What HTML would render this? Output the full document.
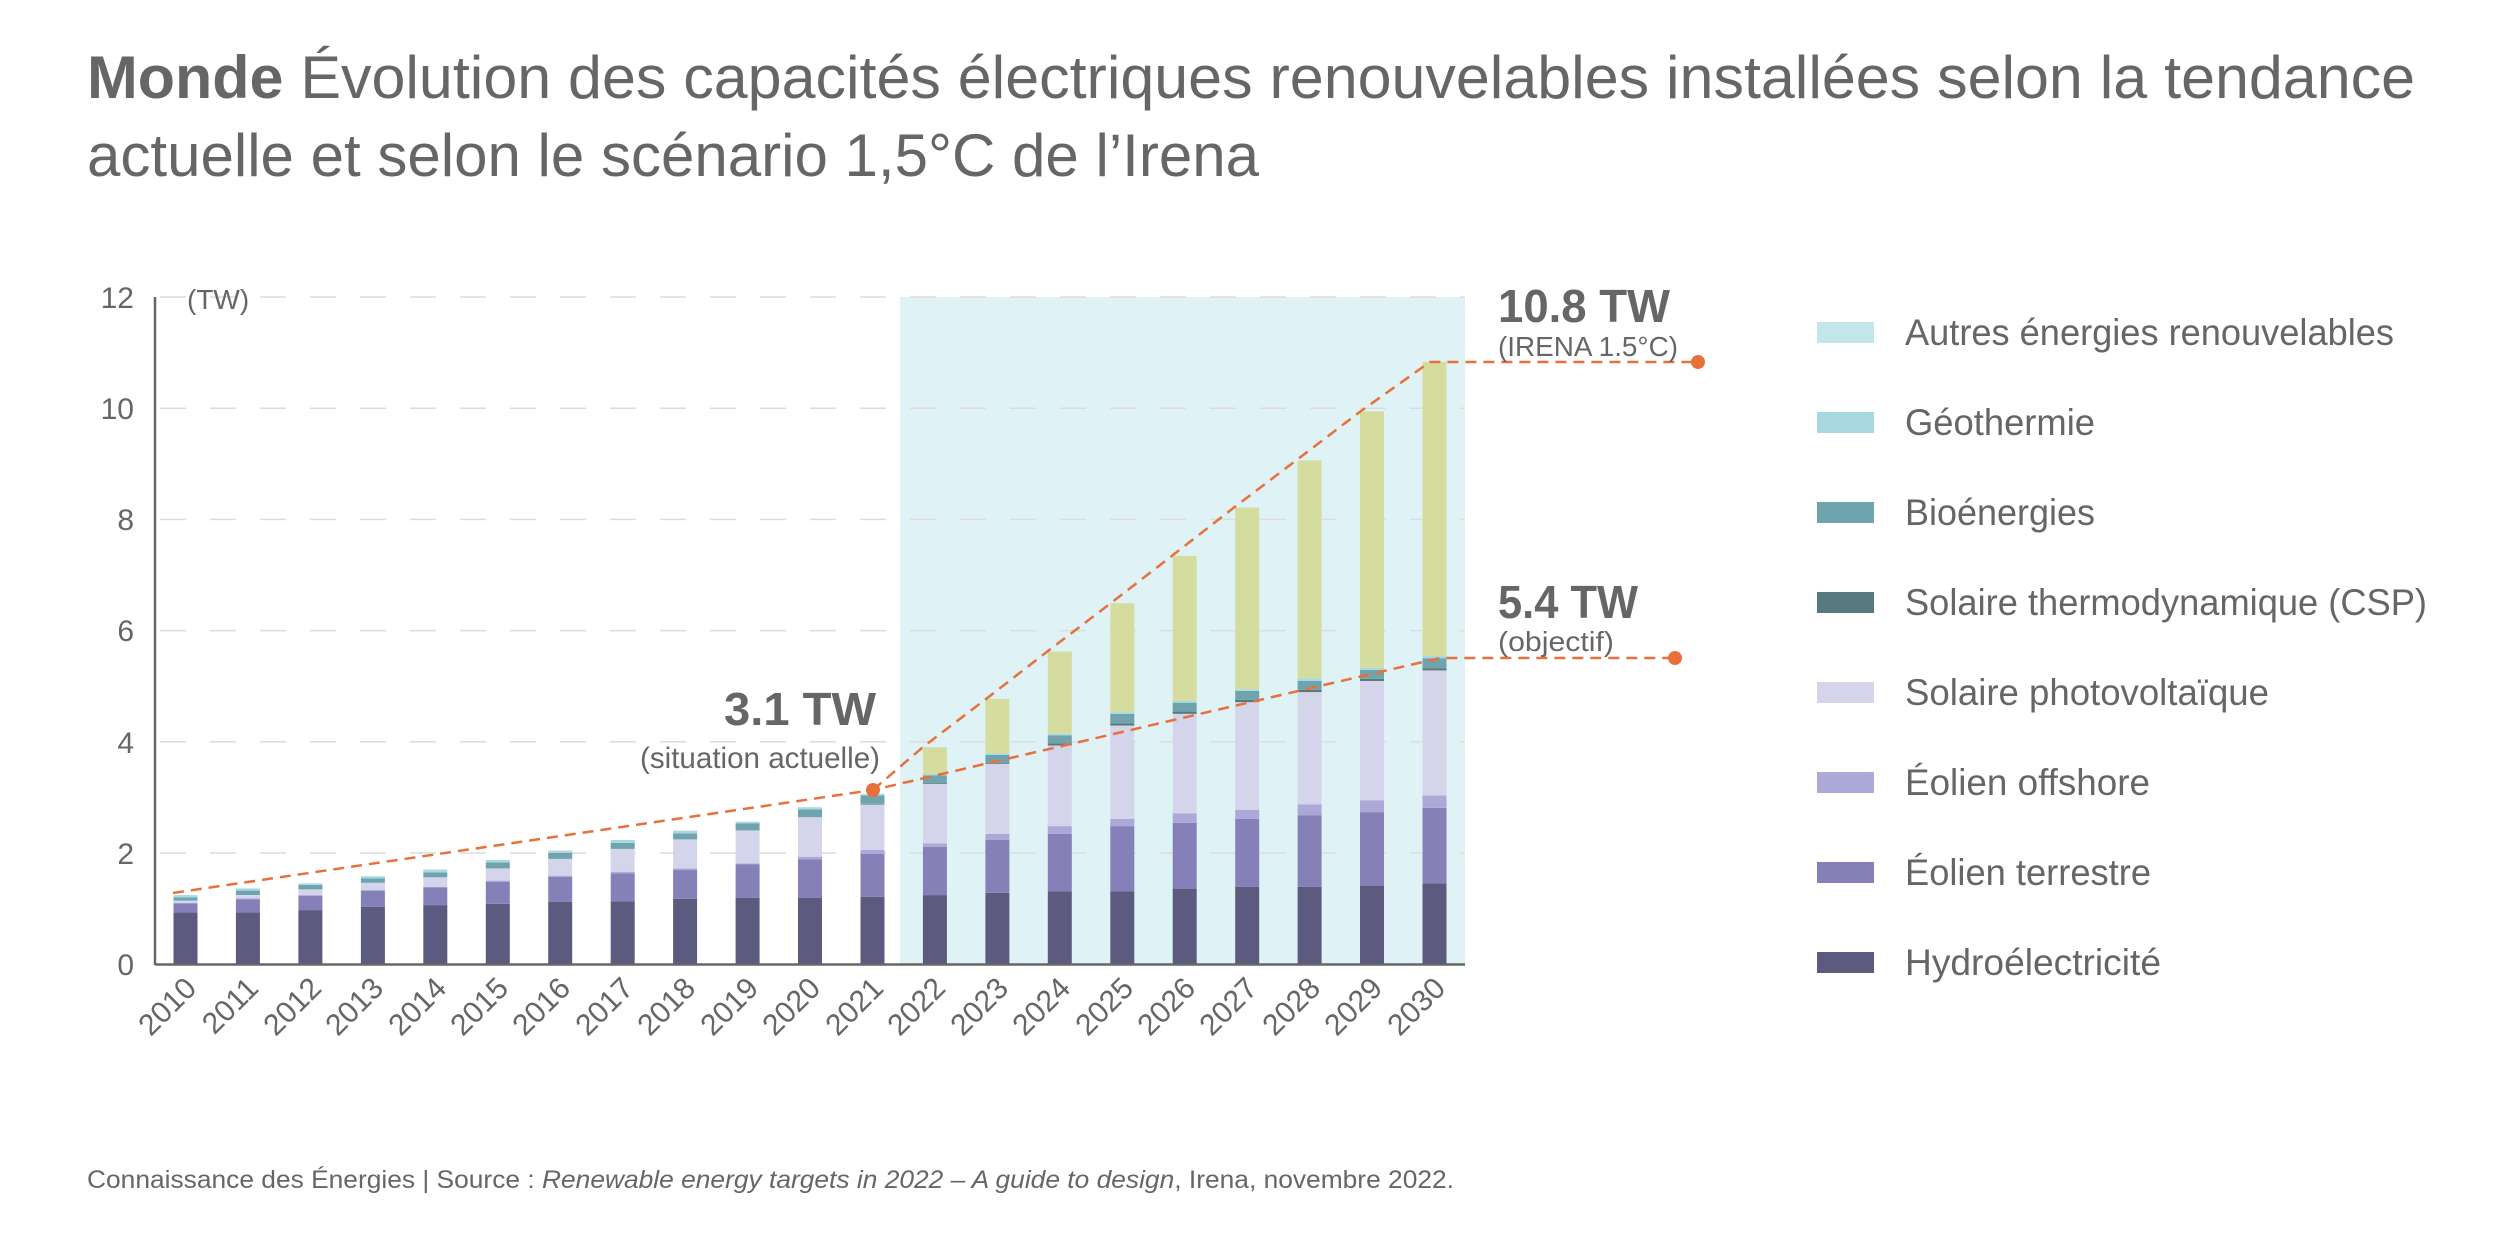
<!DOCTYPE html>
<html><head><meta charset="utf-8">
<style>
html,body{margin:0;padding:0;background:#fff;}
svg{display:block;}
text{font-family:"Liberation Sans",sans-serif;fill:#666;}
</style></head>
<body>
<svg id="s" width="2500" height="1250" viewBox="0 0 2500 1250" xmlns="http://www.w3.org/2000/svg">
<rect x="0" y="0" width="2500" height="1250" fill="#fff"/>
<text x="87" y="98" font-size="60" textLength="2328" lengthAdjust="spacingAndGlyphs"><tspan font-weight="bold">Monde</tspan> Évolution des capacités électriques renouvelables installées selon la tendance</text>
<text x="87" y="176" font-size="60" textLength="1172" lengthAdjust="spacingAndGlyphs">actuelle et selon le scénario 1,5°C de l’Irena</text>

<rect x="900" y="297" width="565" height="667" fill="#dff3f6"/>
<g id="grid" stroke="#dcdcdc" stroke-width="1.5" stroke-dasharray="26 24">
<line x1="160" y1="297" x2="1465" y2="297"/>
<line x1="160" y1="408.2" x2="1465" y2="408.2"/>
<line x1="160" y1="519.4" x2="1465" y2="519.4"/>
<line x1="160" y1="630.6" x2="1465" y2="630.6"/>
<line x1="160" y1="741.8" x2="1465" y2="741.8"/>
<line x1="160" y1="853" x2="1465" y2="853"/>
</g>
<g font-size="30" text-anchor="end">
<text x="134" y="308">12</text>
<text x="134" y="419">10</text>
<text x="134" y="530">8</text>
<text x="134" y="641">6</text>
<text x="134" y="753">4</text>
<text x="134" y="864">2</text>
<text x="134" y="975">0</text>
</g>
<text x="187" y="309" font-size="28">(TW)</text>
<g id="bars"></g>
<line x1="155" y1="297" x2="155" y2="965" stroke="#666" stroke-width="2.5"/>
<line x1="155" y1="964.5" x2="1465" y2="964.5" stroke="#666" stroke-width="2.5"/>
<g font-size="30" text-anchor="end">
<text transform="translate(198,990) rotate(-45)">2010</text>
<text transform="translate(260,990) rotate(-45)">2011</text>
<text transform="translate(323,990) rotate(-45)">2012</text>
<text transform="translate(385,990) rotate(-45)">2013</text>
<text transform="translate(448,990) rotate(-45)">2014</text>
<text transform="translate(510,990) rotate(-45)">2015</text>
<text transform="translate(572,990) rotate(-45)">2016</text>
<text transform="translate(635,990) rotate(-45)">2017</text>
<text transform="translate(697,990) rotate(-45)">2018</text>
<text transform="translate(760,990) rotate(-45)">2019</text>
<text transform="translate(822,990) rotate(-45)">2020</text>
<text transform="translate(885,990) rotate(-45)">2021</text>
<text transform="translate(947,990) rotate(-45)">2022</text>
<text transform="translate(1010,990) rotate(-45)">2023</text>
<text transform="translate(1072,990) rotate(-45)">2024</text>
<text transform="translate(1135,990) rotate(-45)">2025</text>
<text transform="translate(1197,990) rotate(-45)">2026</text>
<text transform="translate(1259,990) rotate(-45)">2027</text>
<text transform="translate(1322,990) rotate(-45)">2028</text>
<text transform="translate(1384,990) rotate(-45)">2029</text>
<text transform="translate(1447,990) rotate(-45)">2030</text>
</g>
<g fill="none" stroke="#e8703a" stroke-width="2.5" stroke-dasharray="11 7">
<polyline id="trend" points="173,893 873,790 1440,658 1675,658"/>
<polyline id="irena" points="873,790 923,747 986,699 1048,651 1111,603 1173,555 1236,506 1298,459 1361,411 1430,362 1698,362"/>
</g>
<g fill="#e8703a">
<circle cx="873" cy="790" r="7"/>
<circle cx="1675" cy="658" r="7"/>
<circle cx="1698" cy="362" r="7"/>
</g>
<text x="876" y="725" font-size="46" font-weight="bold" text-anchor="end" textLength="152" lengthAdjust="spacingAndGlyphs">3.1 TW</text>
<text x="880" y="768" font-size="30" text-anchor="end" textLength="240" lengthAdjust="spacingAndGlyphs">(situation actuelle)</text>
<text x="1498" y="322" font-size="46" font-weight="bold" textLength="172" lengthAdjust="spacingAndGlyphs">10.8 TW</text>
<text x="1498" y="356" font-size="28" textLength="180" lengthAdjust="spacingAndGlyphs">(IRENA 1.5°C)</text>
<text x="1498" y="618" font-size="46" font-weight="bold" textLength="140" lengthAdjust="spacingAndGlyphs">5.4 TW</text>
<text x="1498" y="651" font-size="28" textLength="116" lengthAdjust="spacingAndGlyphs">(objectif)</text>

<g>
<rect x="1817" y="322" width="57" height="21" fill="#c3e6eb"/>
<rect x="1817" y="412" width="57" height="21" fill="#a8d9e3"/>
<rect x="1817" y="502" width="57" height="21" fill="#6fa3ae"/>
<rect x="1817" y="592" width="57" height="21" fill="#55797c"/>
<rect x="1817" y="682" width="57" height="21" fill="#d4d4ea"/>
<rect x="1817" y="772" width="57" height="21" fill="#aca8d8"/>
<rect x="1817" y="862" width="57" height="21" fill="#8680b8"/>
<rect x="1817" y="952" width="57" height="21" fill="#5c5a7e"/>
</g>
<g font-size="37">
<text x="1905" y="345" textLength="489" lengthAdjust="spacingAndGlyphs">Autres énergies renouvelables</text>
<text x="1905" y="435" textLength="190" lengthAdjust="spacingAndGlyphs">Géothermie</text>
<text x="1905" y="525" textLength="190" lengthAdjust="spacingAndGlyphs">Bioénergies</text>
<text x="1905" y="615" textLength="522" lengthAdjust="spacingAndGlyphs">Solaire thermodynamique (CSP)</text>
<text x="1905" y="705" textLength="364" lengthAdjust="spacingAndGlyphs">Solaire photovoltaïque</text>
<text x="1905" y="795" textLength="245" lengthAdjust="spacingAndGlyphs">Éolien offshore</text>
<text x="1905" y="885" textLength="246" lengthAdjust="spacingAndGlyphs">Éolien terrestre</text>
<text x="1905" y="975" textLength="256" lengthAdjust="spacingAndGlyphs">Hydroélectricité</text>
</g>
<text x="87" y="1188" font-size="25" textLength="1367" lengthAdjust="spacingAndGlyphs">Connaissance des Énergies | Source : <tspan font-style="italic">Renewable energy targets in 2022 – A guide to design</tspan>, Irena, novembre 2022.</text>
</svg>
<script>
var d=[
[0.93,1.09,1.10,1.14,1.14,1.20,1.24,1.24],
[0.93,1.16,1.18,1.24,1.24,1.32,1.36,1.36],
[0.97,1.23,1.24,1.34,1.34,1.42,1.45,1.45],
[1.03,1.32,1.33,1.46,1.46,1.54,1.58,1.58],
[1.06,1.38,1.39,1.56,1.56,1.65,1.70,1.70],
[1.08,1.48,1.50,1.72,1.72,1.83,1.87,1.87],
[1.12,1.57,1.59,1.89,1.89,2.00,2.04,2.04],
[1.13,1.63,1.66,2.07,2.07,2.18,2.23,2.23],
[1.17,1.69,1.72,2.24,2.24,2.35,2.40,2.40],
[1.19,1.79,1.81,2.40,2.40,2.53,2.56,2.56],
[1.19,1.88,1.93,2.64,2.64,2.78,2.82,2.82],
[1.21,1.98,2.05,2.87,2.88,3.03,3.06,3.06],
[1.24,2.11,2.17,3.24,3.26,3.39,3.42,3.90],
[1.28,2.23,2.34,3.60,3.62,3.76,3.79,4.77],
[1.31,2.34,2.48,3.93,3.97,4.11,4.14,5.62],
[1.31,2.48,2.61,4.29,4.33,4.50,4.53,6.49],
[1.35,2.54,2.71,4.50,4.54,4.70,4.73,7.34],
[1.39,2.61,2.77,4.71,4.75,4.91,4.94,8.21],
[1.39,2.67,2.87,4.89,4.93,5.09,5.14,9.06],
[1.41,2.73,2.94,5.09,5.13,5.29,5.33,9.94],
[1.45,2.81,3.03,5.28,5.32,5.50,5.54,10.83]];
var c=["#5c5a7e","#8680b8","#aca8d8","#d4d4ea","#55797c","#6fa3ae","#a8d9e3","#d4dca0"];
var g=document.getElementById("bars"),h="";
function y(v){return 964-55.6*v;}
for(var i=0;i<d.length;i++){var x=185.5+62.45*i-12,p=0;
for(var k=0;k<8;k++){var t=d[i][k];if(t>p){h+='<rect x="'+x.toFixed(1)+'" y="'+y(t).toFixed(1)+'" width="24" height="'+(55.6*(t-p)).toFixed(1)+'" fill="'+c[k]+'"/>';}p=Math.max(p,t);}}
g.innerHTML=h;
</script>
</body></html>
